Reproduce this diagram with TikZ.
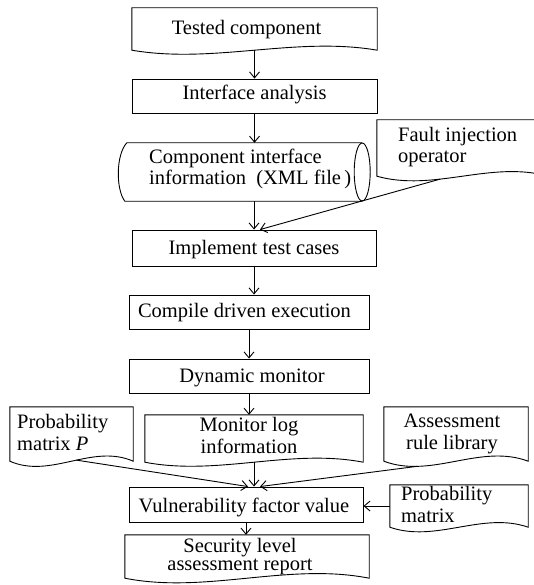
\documentclass[tikz,border=0pt]{standalone}
\usepackage{fontspec}
\setmainfont{Liberation Serif}
\usetikzlibrary{arrows.meta,calc}

\tikzset{
  outline/.style={line width=0.9pt},
  flow/.style={line width=0.9pt, -{Straight Barb[length=6pt,width=10pt]}},
  boxnode/.style={draw, outline, rectangle, inner sep=0pt},
  frame/.style={rectangle, inner sep=0pt, draw=none},
  lbl/.style={font=\fontsize{20.5}{21.5}\selectfont, inner sep=0pt, anchor=base},
  lbll/.style={lbl, align=left, anchor=base west},
  lblc/.style={lbl, align=center},
}

% document symbol: frame node name, wave depth, position of the exit point, exit point name
\newcommand\docoutline[4]{%
  \draw[outline] (#1.north east) -- (#1.north west) -- (#1.south west)
    .. controls ($(#1.south west)!0.333!(#1.south east)+(0,#2)$)
            and ($(#1.south west)!0.667!(#1.south east)+(0,-#2)$) .. (#1.south east)
    coordinate[pos=#3] (#4) -- cycle;}

\begin{document}
\begin{tikzpicture}[x=1pt, y=-1pt]
\useasboundingbox (0,0) rectangle (533,585);

% ---- frames ----
\node[frame, minimum width=245pt, minimum height=42pt] (tested) at (254.5,29) {};
\node[boxnode, minimum width=245pt, minimum height=34pt] (iface) at (254.5,96) {};
\node[frame, minimum width=235pt, minimum height=58pt] (cii) at (244.5,172) {};
\node[frame, minimum width=171pt, minimum height=56pt] (fault) at (462.5,148) {};
\node[boxnode, minimum width=244pt, minimum height=36pt] (impl) at (254,248) {};
\node[boxnode, minimum width=240pt, minimum height=34pt] (compile) at (249,312) {};
\node[boxnode, minimum width=240pt, minimum height=34pt] (dyn) at (249,376) {};
\node[frame, minimum width=123pt, minimum height=54pt] (pmP) at (71.5,434) {};
\node[frame, minimum width=218pt, minimum height=47pt] (mon) at (254,438.5) {};
\node[frame, minimum width=144pt, minimum height=54pt] (arl) at (456,434) {};
\node[boxnode, minimum width=234pt, minimum height=35pt] (vuln) at (246,504.5) {};
\node[frame, minimum width=138pt, minimum height=42pt] (pm) at (459,506) {};
\node[frame, minimum width=244pt, minimum height=43pt] (sec) at (247,556.5) {};

% ---- document outlines ----
\docoutline{tested}{14}{0.5}{tested-out}
\docoutline{fault}{16}{0.37}{fault-out}
\docoutline{pmP}{18}{0.54}{pmP-out}
\docoutline{mon}{14}{0.5}{mon-out}
\docoutline{arl}{18}{0.23}{arl-out}
\docoutline{pm}{16}{0.5}{pm-out}
\docoutline{sec}{16}{0.5}{sec-out}

% ---- stored data: curved left side, elliptic right end ----
\draw[outline] (cii.north east) -- (cii.north west)
  .. controls ($(cii.north west)+(-11,12)$) and ($(cii.south west)+(-11,-12)$) .. ($(cii.south west)+(-2,0)$)
  -- (cii.south east);
\draw[outline] ($(cii.north east)!0.5!(cii.south east)$) ellipse [x radius=8, y radius=29];

% ---- texts (multi-line texts are placed by their last baseline) ----
\node[lbl] (t-tested) at (246.5,35) {Tested component};
\node[lbl] (t-iface) at (254.5,100) {Interface analysis};
\node[lbll] (t-cii) at (149,185) {Component interface\\information\enspace(XML file\,)};
\node[lbll] (t-fault) at (398,163) {Fault injection\\operator};
\node[lbl] (t-impl) at (254,254) {Implement test cases};
\node[lbl] (t-compile) at (244.5,317) {Compile driven execution};
\node[lbl] (t-dyn) at (252,382) {Dynamic monitor};
\node[lbll] (t-pmP) at (17,450) {Probability\\matrix \textit{P}};
\node[lblc] (t-mon) at (249,453) {Monitor log\\information};
\node[lblc] (t-arl) at (452,449) {Assessment\\rule library};
\node[lbl] (t-vuln) at (244,512) {Vulnerability factor value};
\node[lbll] (t-pm) at (401,522) {Probability\\matrix};
\node[lblc, font=\fontsize{20.5}{18}\selectfont] (t-sec) at (240,570) {Security level\\assessment report};

% ---- connectors ----
\draw[flow] (tested-out) -- (iface.north);
\draw[flow] (iface.south) -- (iface.south |- cii.north);
\draw[flow] (impl.north |- cii.south) -- (impl.north);
\draw[flow] (fault-out) -- ([xshift=6pt]impl.north);
\draw[flow] (impl.south) -- (impl.south |- compile.north);
\draw[flow] (compile.south) -- (dyn.north);
\draw[flow] (dyn.south) -- (dyn.south |- mon.north);
\draw[flow] (mon-out) -- (mon-out |- vuln.north);
\draw[flow] (pmP-out) -- ([xshift=2pt]vuln.north);
\draw[flow] (arl-out) -- ([xshift=14pt]vuln.north);
\draw[flow] (pm.west) -- (pm.west -| vuln.east);
\draw[flow] (vuln.south) -- (vuln.south |- sec.north);
\end{tikzpicture}
\end{document}
